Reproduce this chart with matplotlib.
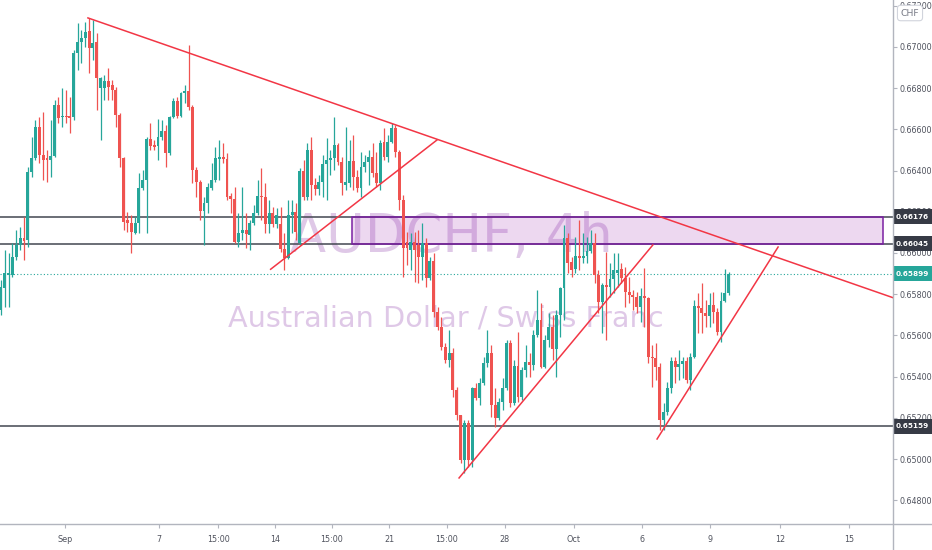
import numpy as np
import matplotlib.pyplot as plt
import matplotlib.transforms as mtransforms
from matplotlib import font_manager as fm
from matplotlib.patches import Rectangle
from matplotlib.lines import Line2D

# 找一个窄体字体 (TradingView 截图里的字偏窄)
narrow_name = None
for fe in fm.fontManager.ttflist:
    fn = fe.fname.lower()
    nm = fe.name.lower()
    if ('narrow' in fn or 'condensed' in fn or 'narrow' in nm or 'condensed' in nm) and \
            not any(k in fn for k in ('mono', 'serif', 'bold', 'italic', 'oblique', 'light', 'thin', 'black', 'medium')):
        narrow_name = fe.name
        break
if narrow_name:
    plt.rcParams['font.family'] = [narrow_name, 'Liberation Sans', 'DejaVu Sans']
else:
    plt.rcParams['font.family'] = ['Liberation Sans', 'DejaVu Sans']

# AUDCHF 4h candles, prices in points (1e-5)
opens = [65723, 65830, 65893, 65893, 65981, 66039, 66073, 66063, 66393, 66461,
         66612, 66476, 66461, 66451, 66471, 66718, 66660, 66665, 66665, 66660,
         66971, 67024, 67044, 67078, 66995, 67024, 66801, 66801, 66835, 66815,
         66791, 66670, 66461, 66160, 66146, 66097, 66146, 66316, 66354, 66553,
         66524, 66519, 66563, 66592, 66485, 66660, 66738, 66665, 66777, 66786,
         66709, 66403, 66345, 66204, 66243, 66316, 66354, 66456, 66466, 66456,
         66277, 66262, 66053, 66097, 66112, 66087, 66146, 66194, 66277, 66272,
         66141, 66194, 66141, 66141, 66019, 65976, 66184, 66199, 66049, 66398,
         66272, 66500, 66330, 66311, 66345, 66432, 66451, 66461, 66524, 66442,
         66330, 66340, 66447, 66369, 66316, 66417, 66442, 66466, 66388, 66340,
         66539, 66466, 66539, 66607, 66490, 66257, 66053, 66015, 66053, 66039,
         65981, 66049, 65879, 65961, 65714, 65641, 65544, 65481, 65515, 65335,
         65214, 64995, 65175, 64995, 65345, 65296, 65369, 65466, 65515, 65262,
         65199, 65277, 65345, 65563, 65272, 65451, 65301, 65432, 65471, 65456,
         65602, 65675, 65447, 65578, 65641, 65534, 65699, 65830, 66073, 65956,
         65923, 65985, 65976, 65985, 66010, 66049, 65893, 65762, 65845, 65835,
         65874, 65903, 65923, 65879, 65811, 65796, 65786, 65738, 65791, 65781,
         65495, 65490, 65447, 65189, 65228, 65345, 65476, 65447, 65461, 65476,
         65383, 65495, 65743, 65733, 65709, 65694, 65748, 65714, 65616, 65767,
         65806]
highs = [65869, 66015, 66000, 66049, 66112, 66126, 66175, 66417, 66563, 66646,
         66660, 66684, 66500, 66646, 66743, 66757, 66801, 66791, 66757, 66985,
         67116, 67082, 67121, 67141, 67131, 67068, 66854, 66864, 66898, 66840,
         66806, 66680, 66466, 66199, 66184, 66175, 66388, 66403, 66563, 66631,
         66548, 66650, 66646, 66621, 66665, 66752, 66757, 66781, 66815, 67010,
         66718, 66417, 66354, 66272, 66340, 66437, 66514, 66548, 66534, 66485,
         66291, 66321, 66194, 66321, 66194, 66160, 66233, 66354, 66413, 66340,
         66257, 66223, 66218, 66223, 66097, 66257, 66257, 66243, 66413, 66451,
         66534, 66563, 66364, 66379, 66476, 66558, 66500, 66660, 66534, 66466,
         66612, 66548, 66573, 66403, 66490, 66476, 66500, 66534, 66490, 66548,
         66607, 66573, 66631, 66621, 66500, 66281, 66102, 66097, 66102, 66112,
         66146, 66073, 65981, 66000, 65738, 65689, 65563, 65626, 65539, 65350,
         65214, 65189, 65189, 65350, 65369, 65393, 65495, 65626, 65553, 65345,
         65296, 65393, 65578, 65578, 65481, 65616, 65447, 65553, 65515, 65626,
         65820, 65757, 65602, 65709, 65699, 65723, 65835, 66136, 66097, 65981,
         66078, 66160, 66097, 66078, 66112, 66097, 65918, 65854, 66005, 65952,
         66000, 66000, 65952, 65932, 65883, 65820, 65811, 65830, 65927, 65786,
         65553, 65563, 65466, 65272, 65374, 65495, 65495, 65529, 65495, 65495,
         65515, 65772, 65806, 65854, 65772, 65806, 65811, 65733, 65811, 65923,
         65908]
lows = [65699, 65738, 65738, 65883, 65966, 66015, 65966, 66029, 66369, 66451,
        66437, 66354, 66345, 66369, 66466, 66631, 66612, 66631, 66582, 66646,
        66888, 66922, 67000, 66874, 66937, 66694, 66548, 66743, 66743, 66743,
        66612, 66417, 66112, 66102, 66000, 66092, 66097, 66306, 66097, 66500,
        66500, 66451, 66548, 66417, 66476, 66655, 66655, 66660, 66728, 66694,
        66340, 66272, 66160, 66039, 66194, 66306, 66345, 66354, 66437, 66257,
        66194, 66049, 66029, 66063, 66024, 66015, 66136, 66184, 66160, 66097,
        66097, 66126, 66121, 66005, 65918, 65971, 66097, 66063, 66039, 66257,
        66257, 66257, 66281, 66281, 66272, 66257, 66379, 66403, 66427, 66281,
        66306, 66321, 66306, 66296, 66272, 66393, 66330, 66369, 66321, 66306,
        66451, 66442, 66534, 66466, 66209, 65883, 65942, 65918, 65859, 65854,
        65869, 65835, 65869, 65689, 65626, 65529, 65466, 65447, 65301, 65189,
        64981, 64932, 64961, 64961, 65286, 65262, 65359, 65447, 65204, 65155,
        65189, 65238, 65335, 65252, 65262, 65277, 65286, 65398, 65398, 65432,
        65592, 65442, 65442, 65544, 65481, 65398, 65592, 65675, 65903, 65883,
        65903, 65918, 65952, 65952, 66000, 65854, 65709, 65612, 65578, 65786,
        65806, 65835, 65854, 65738, 65757, 65723, 65709, 65665, 65641, 65466,
        65350, 65383, 65141, 65141, 65214, 65320, 65369, 65383, 65393, 65369,
        65335, 65490, 65612, 65612, 65641, 65641, 65660, 65602, 65568, 65762,
        65796]
closes = [65835, 65903, 65903, 65981, 66039, 66073, 66058, 66393, 66461, 66612,
          66476, 66451, 66451, 66471, 66718, 66655, 66665, 66660, 66655, 66971,
          67024, 67044, 67073, 66995, 67019, 66849, 66849, 66835, 66806, 66791,
          66670, 66461, 66150, 66146, 66102, 66146, 66316, 66354, 66553, 66519,
          66514, 66563, 66592, 66485, 66660, 66738, 66665, 66777, 66786, 66709,
          66403, 66345, 66204, 66243, 66321, 66354, 66461, 66466, 66456, 66272,
          66262, 66053, 66097, 66112, 66092, 66146, 66194, 66277, 66272, 66141,
          66194, 66141, 66184, 66019, 65976, 66184, 66199, 66102, 66398, 66272,
          66500, 66330, 66311, 66345, 66432, 66451, 66461, 66524, 66442, 66340,
          66345, 66447, 66369, 66316, 66417, 66442, 66466, 66388, 66340, 66534,
          66466, 66539, 66607, 66490, 66257, 66024, 66024, 66053, 66015, 65981,
          66049, 65879, 65961, 65714, 65641, 65544, 65481, 65515, 65335, 65214,
          64995, 65175, 64995, 65345, 65296, 65369, 65466, 65515, 65262, 65199,
          65277, 65345, 65563, 65272, 65451, 65301, 65432, 65471, 65456, 65602,
          65675, 65447, 65578, 65641, 65534, 65699, 65830, 66073, 65952, 65918,
          65985, 65976, 65985, 66010, 66049, 65893, 65762, 65845, 65835, 65874,
          65918, 65918, 65879, 65811, 65796, 65786, 65738, 65791, 65781, 65495,
          65490, 65447, 65189, 65228, 65345, 65476, 65447, 65461, 65476, 65383,
          65495, 65743, 65733, 65709, 65694, 65748, 65714, 65616, 65767, 65806,
          65899]

# 时间轴标签 (bar index)
date_ticks = [16.7, 41.3, 56.7, 71.5, 86.3, 101.4, 116.4, 131.5, 149.5, 167.4, 185.2, 203.4, 221.4]
date_labels = ['Sep', '7', '15:00', '14', '15:00', '21', '15:00', '28', 'Oct', '6', '9', '12', '15']

# 水平位
levels = [0.66176, 0.66045, 0.65159]
last_price = 0.65899
zone = (91.6, 230.3, 0.66045, 0.66176)

# 趋势线 (bar index, price)
trend_lines = [
    [(22.7, 0.67141), (232.9, 0.65783)],
    [(70.4, 0.65921), (113.8, 0.66548)],
    [(119.6, 0.64908), (170.2, 0.66039)],
    [(171.3, 0.65097), (202.9, 0.66029)],
]

o = np.array(opens) / 1e5
h = np.array(highs) / 1e5
l = np.array(lows) / 1e5
c = np.array(closes) / 1e5
h = np.maximum(h, np.maximum(o, c))
l = np.minimum(l, np.minimum(o, c))
x = np.arange(len(o))

green = '#26a69a'
red = '#ef5350'
txt = '#50535e'
axis_c = '#b2b5be'

fig = plt.figure(figsize=(9.32, 5.5), dpi=100)
renderer = fig.canvas.get_renderer()


def fit_size(s, target_px, weight='normal'):
    # 按目标像素宽度算字号
    t = fig.text(0, 0, s, fontsize=10, fontweight=weight)
    w = t.get_window_extent(renderer=renderer).width
    t.remove()
    return 10 * target_px / w


fs_big = fit_size('AUDCHF, 4h', 322)
fs_sub = fit_size('Australian Dollar / Swiss Franc', 435)
fs_ax = min(fit_size('0.67000', 33), 8.5)
fs_box = min(fit_size('0.66176', 33, 'bold'), 8.5)

ax = fig.add_axes([0, 26 / 550, 893 / 932, 524 / 550])
ax.set_xlim(-0.26, 232.9)
ax.set_ylim(0.646845, 0.67228)
for s in ax.spines.values():
    s.set_visible(False)

# 水印
wm = (140 / 255, 60 / 255, 170 / 255, 0.28)
ax.text(0.505, 0.519, 'AUDCHF, 4h', transform=ax.transAxes, ha='center', va='baseline',
        fontsize=fs_big, color=wm, zorder=0)
ax.text(0.499, 0.376, 'Australian Dollar / Swiss Franc', transform=ax.transAxes,
        ha='center', va='baseline', fontsize=fs_sub, color=wm, zorder=0)

# 蜡烛
up = c >= o
cols = np.where(up, green, red)
ax.vlines(x, l, h, colors=cols, lw=0.9, zorder=3)
body = np.maximum(np.abs(c - o), 0.00004)
ax.bar(x, body, bottom=np.minimum(o, c), width=0.76, color=cols, edgecolor='none', zorder=4)

# 水平线和区域
for lv in levels:
    ax.axhline(lv, color='#434651', lw=1.1, zorder=2)
ax.add_patch(Rectangle((zone[0], zone[2]), zone[1] - zone[0], zone[3] - zone[2],
                       facecolor=(156 / 255, 39 / 255, 176 / 255, 0.18),
                       edgecolor='#7b1fa2', lw=1.1, zorder=2.2))
ax.axhline(last_price, color=green, lw=0.8, ls=(0, (1, 2)), zorder=2)

for (x0, y0), (x1, y1) in trend_lines:
    ax.plot([x0, x1], [y0, y1], color='#f23645', lw=1.1, zorder=5)

# 坐标轴
ax.set_xticks(date_ticks)
ax.set_xticklabels(date_labels)
ax.tick_params(axis='x', length=3, color=axis_c, labelsize=fs_ax, labelcolor=txt, pad=5)
ax.yaxis.tick_right()
yt = np.arange(0.648, 0.6721, 0.002)
ax.set_yticks(yt)
ax.set_yticklabels(['%.5f' % v for v in yt])
ax.tick_params(axis='y', length=3, color=axis_c, labelsize=fs_ax, labelcolor=txt, pad=2)

fig.add_artist(Line2D([0, 1], [26 / 550, 26 / 550], color=axis_c, lw=1, transform=fig.transFigure))
fig.add_artist(Line2D([893 / 932, 893 / 932], [0, 1], color=axis_c, lw=1, transform=fig.transFigure))

# 价格标签
tr = mtransforms.blended_transform_factory(ax.transAxes, ax.transData)
box_w = 39 / 893
box_h = 0.00072
for lv, fc in [(levels[0], '#363a45'), (levels[1], '#363a45'), (levels[2], '#363a45'), (last_price, green)]:
    ax.add_patch(Rectangle((1.0, lv - box_h / 2), box_w, box_h, transform=tr, facecolor=fc,
                           edgecolor='none', clip_on=False, zorder=9))
    ax.text(1.0 + box_w / 2, lv, '%.5f' % lv, transform=tr, ha='center', va='center',
            color='white', fontsize=fs_box, fontweight='bold', zorder=10)

fig.text(910 / 932, 1 - 13 / 550, 'CHF', ha='center', va='center', fontsize=fs_ax * 1.15,
         color='#787b86', zorder=20,
         bbox=dict(boxstyle='round,pad=0.35', fc='white', ec='#d1d4dc', lw=0.8))

plt.savefig('out.png', dpi=100)
